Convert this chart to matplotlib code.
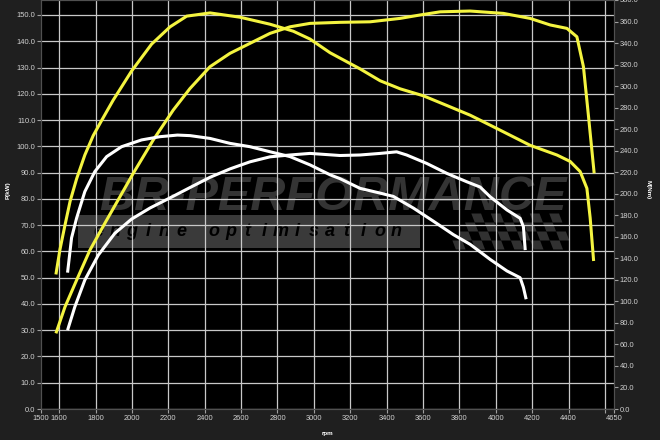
import matplotlib
matplotlib.use('Agg')
import matplotlib.pyplot as plt
from matplotlib.patches import Rectangle, Polygon

# tuned (yellow) and stock (white) runs
tuned_rpm_p = [1582, 1632, 1696, 1769, 1851, 1934, 2007, 2117, 2227, 2319, 2429, 2539, 2649, 2759, 2869,
               2979, 3144, 3309, 3474, 3584, 3694, 3859, 4042, 4189, 4299, 4391, 4446, 4482, 4510, 4541]
tuned_power = [28.8, 38.9, 49.1, 60.5, 70.7, 80.8, 89.7, 102.4, 113.8, 122.0, 130.3, 135.4, 139.2, 143.0, 145.5,
               146.8, 147.2, 147.4, 148.7, 150.0, 151.2, 151.5, 150.6, 148.7, 146.2, 144.9, 141.7, 130.3, 111.3, 89.7]
tuned_rpm_t = [1582, 1604, 1632, 1660, 1696, 1741, 1787, 1833, 1897, 1998, 2108, 2209, 2301, 2429, 2594, 2759,
               2887, 2979, 3089, 3144, 3254, 3364, 3474, 3602, 3731, 3859, 4006, 4189, 4336, 4409, 4464, 4501,
               4519, 4538]
tuned_torque = [125, 148, 171, 193, 214, 236, 254, 268, 287, 314, 339, 355, 365, 368, 364, 357.5,
                351, 343.7, 331, 326, 316, 305, 297.5, 291, 282, 273, 260.6, 245, 236, 230, 220.6, 205,
                177.5, 137.5]
stock_rpm_p = [1646, 1686, 1741, 1815, 1906, 1998, 2099, 2227, 2319, 2429, 2539, 2649, 2759, 2869, 2979,
               3144, 3254, 3364, 3455, 3510, 3620, 3731, 3841, 3914, 3969, 4061, 4134, 4152, 4162]
stock_power = [30.0, 38.9, 49.1, 58.6, 66.9, 72.3, 76.5, 81.0, 84.3, 88.2, 91.4, 94.1, 96.0, 96.7, 97.3,
               96.5, 96.7, 97.3, 97.9, 96.7, 93.5, 89.7, 86.5, 84.5, 80.8, 75.8, 72.6, 69.4, 60.5]
stock_rpm_t = [1646, 1668, 1696, 1741, 1796, 1861, 1943, 2053, 2154, 2250, 2319, 2429, 2539, 2649, 2759, 2869,
               2979, 3089, 3144, 3254, 3364, 3437, 3547, 3657, 3767, 3859, 3969, 4061, 4134, 4152, 4167]
stock_torque = [126.7, 159, 177.5, 202, 220.6, 234.5, 243.7, 250, 253, 254.5, 254, 251.4, 246.8, 243.7, 239, 234.5,
                226.8, 217.6, 214, 205, 200.6, 197.5, 186.7, 174.5, 162, 153, 139, 128.3, 122, 113, 102]

x_ticks = [1500, 1600, 1800, 2000, 2200, 2400, 2600, 2800, 3000, 3200, 3400, 3600, 3800, 4000, 4200, 4400, 4600, 4650]
x_labels = [str(t) for t in x_ticks]
x_labels[-2] = ''

bg = '#1f1f1f'
txt = '#d2d2d2'
yellow = '#f4f440'

plt.rcParams['font.family'] = ['Liberation Sans', 'DejaVu Sans']
fig = plt.figure(figsize=(6.6, 4.4), dpi=100, facecolor=bg)
ax = fig.add_axes([41 / 660, 31 / 440, 573 / 660, 409 / 440])
ax.set_facecolor('black')
ax2 = ax.twinx()

# watermark logo, behind grid
ax.text(0.51, 0.518, 'BR-PERFORMANCE', transform=ax.transAxes, ha='center', va='center',
        fontsize=35, fontweight='bold', fontstyle='italic', color='#343434', zorder=0.3)
ax.add_patch(Rectangle((0.065, 0.394), 0.596, 0.08, transform=ax.transAxes,
                       facecolor='#3a3a3a', edgecolor='none', zorder=0.2))
word = 'engine optimisation'
for i, ch in enumerate(word):
    ax.text(0.1 + i * (0.52 / (len(word) - 1)), 0.434, ch, transform=ax.transAxes, ha='center', va='center',
            fontsize=13, fontweight='bold', fontstyle='italic', color='black', zorder=0.3)
for r in range(4):
    for c in range(14):
        if (r + c) % 2 == 0 and c > r:
            x0 = 0.69 + c * 0.017 - r * 0.006
            y0 = 0.39 + r * 0.022
            ax.add_patch(Polygon([(x0, y0), (x0 + 0.017, y0), (x0 + 0.011, y0 + 0.022), (x0 - 0.006, y0 + 0.022)],
                                 closed=True, transform=ax.transAxes, facecolor='#313131',
                                 edgecolor='none', zorder=0.2))

ax.set_xlim(1500, 4650)
ax.set_ylim(0, 155.7)
ax2.set_ylim(0, 377.5)
ax.set_xticks(x_ticks)
ax.set_xticklabels(x_labels)
ax.set_yticks([i * 10 for i in range(16)])
ax.set_yticklabels(['%.1f' % (i * 10) for i in range(16)])
ax2.set_yticks([i * 20 for i in range(20)])
ax2.set_yticklabels(['%.1f' % (i * 20) for i in range(20)])

ax.grid(True, color='#c8c8c8', linewidth=0.9, zorder=0.5)
ax.set_axisbelow(True)
gl = ax.get_xgridlines()
gl[0].set_visible(False)
gl[-1].set_visible(False)

for a in (ax, ax2):
    a.tick_params(colors='#a0a0a0', labelcolor=txt, labelsize=5.4, length=3, width=0.8, pad=1)
    for s in a.spines.values():
        s.set_color('#505050')
        s.set_linewidth(0.8)

ax.plot(tuned_rpm_p, tuned_power, color=yellow, linewidth=2.2, solid_capstyle='butt', zorder=3)
ax.plot(stock_rpm_p, stock_power, color='white', linewidth=2.2, solid_capstyle='butt', zorder=3)
ax2.plot(tuned_rpm_t, tuned_torque, color=yellow, linewidth=2.2, solid_capstyle='butt')
ax2.plot(stock_rpm_t, stock_torque, color='white', linewidth=2.2, solid_capstyle='butt')

fig.text(8 / 660, 1 - 190 / 440, 'P(kW)', rotation=90, ha='center', va='center', fontsize=4.5, color='white', fontweight='bold')
fig.text(648 / 660, 1 - 190 / 440, 'M(Nm)', rotation=270, ha='center', va='center', fontsize=4.5, color='white', fontweight='bold')
fig.text(327 / 660, 1 - 433 / 440, 'rpm', ha='center', va='center', fontsize=4.5, color='white', fontweight='bold')

fig.savefig('out.png', dpi=100, facecolor=bg)
